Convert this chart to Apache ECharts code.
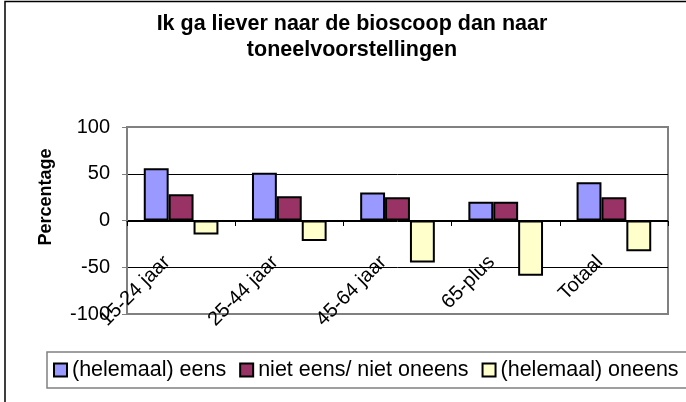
<!DOCTYPE html>
<html>
<head>
<meta charset="utf-8">
<script src="https://cdn.jsdelivr.net/npm/echarts@6/dist/echarts.min.js"></script>
<style>
html,body{margin:0;padding:0;background:#fff;}
#c{width:686px;height:402px;}
</style>
</head>
<body>
<div id="c"></div>
<script>
const titleText = 'Ik ga liever naar de bioscoop dan naar\ntoneelvoorstellingen';
const categories = ['15-24 jaar', '25-44 jaar', '45-64 jaar', '65-plus', 'Totaal'];
const seriesNames = ['(helemaal) eens', 'niet eens/ niet oneens', '(helemaal) oneens'];
const eens = [56, 51, 30, 20, 41];
const neutraal = [28, 26, 25, 20, 25];
const oneens = [-15, -22, -45, -59, -33];
const colors = ['#9999FF', '#993366', '#FFFFCC'];
const yAxisName = 'Percentage';

const FONT = '"Liberation Sans", Arial, sans-serif';
const data = [eens, neutraal, oneens];

const chart = echarts.init(document.getElementById('c'), null, {renderer: 'canvas'});
chart.setOption({
  animation: false,
  backgroundColor: '#fff',
  textStyle: {fontFamily: FONT},
  title: {
    text: titleText,
    left: 347,
    textAlign: 'center',
    top: 6,
    textStyle: {fontFamily: FONT, fontSize: 21.5, fontWeight: 'bold', color: '#000', lineHeight: 26}
  },
  grid: {
    left: 127, right: 18, top: 127, bottom: 88,
    containLabel: false, outerBoundsMode: 'none',
    show: true, borderColor: '#808080', borderWidth: 2, backgroundColor: '#fff'
  },
  legend: {
    left: 47, top: 352, width: 1000,
    padding: [7, 20, 7, 6],
    borderColor: '#808080', borderWidth: 1.5,
    itemWidth: 13, itemHeight: 13, itemGap: 13,
    icon: 'rect',
    textStyle: {fontFamily: FONT, fontSize: 21.5, color: '#000'},
    data: seriesNames
  },
  xAxis: {
    type: 'category',
    data: categories,
    position: 'bottom',
    offset: -93,
    axisLine: {onZero: false, lineStyle: {color: '#000', width: 1}},
    axisTick: {show: true, length: 5, lineStyle: {color: '#000'}},
    axisLabel: {rotate: 45, margin: 24, padding: [0, 20, 0, 0], fontSize: 20, color: '#000', fontFamily: FONT, interval: 0},
    splitLine: {show: false}
  },
  yAxis: {
    type: 'value',
    min: -100, max: 100, interval: 50,
    axisLine: {show: true, lineStyle: {color: '#808080', width: 2}},
    axisTick: {show: true, length: 5, lineStyle: {color: '#808080', width: 1}},
    axisLabel: {fontSize: 20, color: '#000', margin: 17, fontFamily: FONT},
    splitLine: {show: true, showMinLine: false, showMaxLine: false, lineStyle: {color: '#000', width: 1}}
  },
  series: seriesNames.map((n, i) => ({
    name: n,
    type: 'bar',
    data: data[i],
    barGap: 0,
    barCategoryGap: '31%',
    itemStyle: {color: colors[i], borderColor: '#000', borderWidth: 2}
  })),
  graphic: [
    {
      type: 'rect', silent: true, z: 100,
      shape: {x: 5, y: 1.5, width: 900, height: 600},
      style: {fill: 'none', stroke: '#000', lineWidth: 1.5}
    },
    {
      type: 'text', silent: true,
      x: 46, y: 197, rotation: Math.PI / 2,
      style: {text: yAxisName, fontFamily: FONT, fontSize: 18, fontWeight: 'bold', fill: '#000', align: 'center', verticalAlign: 'middle'}
    }
  ]
});
</script>
</body>
</html>
